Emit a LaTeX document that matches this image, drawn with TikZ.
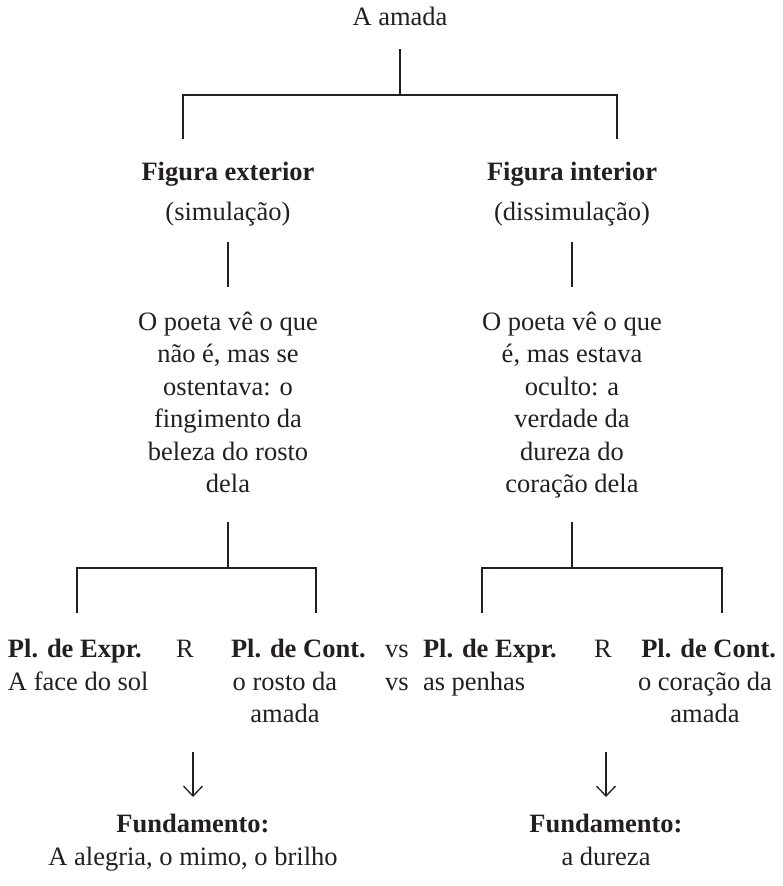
\documentclass[tikz,border=0pt]{standalone}
\usepackage{fontspec}
\setmainfont{Liberation Serif}
\usetikzlibrary{arrows.meta}
\definecolor{ink}{HTML}{231F20}
\begin{document}
\begin{tikzpicture}[x=1pt,y=-1pt,
  txt/.style={inner sep=0pt, outer sep=0pt, text=ink, font=\fontsize{26.5}{32.5}\selectfont, anchor=base, align=center},
  bx/.style={txt, font=\fontsize{26.5}{32.5}\selectfont\bfseries},
  ln/.style={draw=ink, line width=2pt, line join=miter},
  arr/.style={draw=ink, line width=1.3pt, -{Straight Barb[length=10pt,width=19pt]}}]
\useasboundingbox (0,0) rectangle (783,886);
% top
\node[txt] (root) at (400,25) {A amada};
\coordinate (ra) at (400,49);
\coordinate (rb) at (400,95);
\coordinate (tl) at (183,139);
\coordinate (tr) at (617,139);
\draw[ln] (ra) -- (rb);
\draw[ln] (tl) -- (tl |- rb) -- (tr |- rb) -- (tr);
% figures
\node[bx] (fe) at (228,180) {Figura exterior};
\node[txt] (fes) at (228,220) {(simulação)};
\node[bx] (fi) at (572,180) {Figura interior};
\node[txt] (fis) at (572,220) {(dissimulação)};
\coordinate (la) at (228,242); \coordinate (lb) at (228,287);
\coordinate (ria) at (572,242); \coordinate (rib) at (572,287);
\draw[ln] (la) -- (lb);
\draw[ln] (ria) -- (rib);
% multi-line nodes: base anchor = last line's baseline
\node[txt] (pe) at (228,492.5) {O poeta vê o que\\não é, mas se\\ostentava: o\\fingimento da\\beleza do rosto\\dela};
\node[txt] (pi) at (572,492.5) {O poeta vê o que\\é, mas estava\\oculto: a\\verdade da\\dureza do\\coração dela};
% lower brackets
\coordinate (lc) at (228,522); \coordinate (lh) at (228,568);
\coordinate (ll) at (77,613); \coordinate (lr) at (316,613);
\draw[ln] (lc) -- (lh);
\draw[ln] (ll) -- (ll |- lh) -- (lr |- lh) -- (lr);
\coordinate (rc) at (572,522); \coordinate (rh) at (572,568);
\coordinate (rl) at (482,613); \coordinate (rr) at (722,613);
\draw[ln] (rc) -- (rh);
\draw[ln] (rl) -- (rl |- rh) -- (rr |- rh) -- (rr);
% row 1
\node[bx, anchor=base west] (e1) at (8,657) {Pl. de Expr.};
\node[txt] (R1) at (185,657) {R};
\node[bx, anchor=base west] (c1) at (231,657) {Pl. de Cont.};
\node[txt, anchor=base west] (vs1) at (385,657) {vs};
\node[bx, anchor=base west] (e2) at (423,657) {Pl. de Expr.};
\node[txt] (R2) at (603,657) {R};
\node[bx, anchor=base east] (c2) at (776,657) {Pl. de Cont.};
% row 2
\node[txt, anchor=base west] (e1t) at (8,690) {A face do sol};
\node[txt] (c1t) at (285,722.5) {o rosto da\\amada};
\node[txt, anchor=base west] (vs2) at (385,690) {vs};
\node[txt, anchor=base west] (e2t) at (423,690) {as penhas};
\node[txt] (c2t) at (705,722.5) {o coração da\\amada};
% arrows
\coordinate (a1) at (193,752); \coordinate (a1e) at (193,797);
\coordinate (a2) at (606,752); \coordinate (a2e) at (606,797);
\draw[arr] (a1) -- (a1e);
\draw[arr] (a2) -- (a2e);
% bottom
\node[bx] (f1) at (193,832) {Fundamento:};
\node[txt] (f1t) at (193,865) {A alegria, o mimo, o brilho};
\node[bx] (f2) at (606,832) {Fundamento:};
\node[txt] (f2t) at (606,865) {a dureza};
\end{tikzpicture}
\end{document}
